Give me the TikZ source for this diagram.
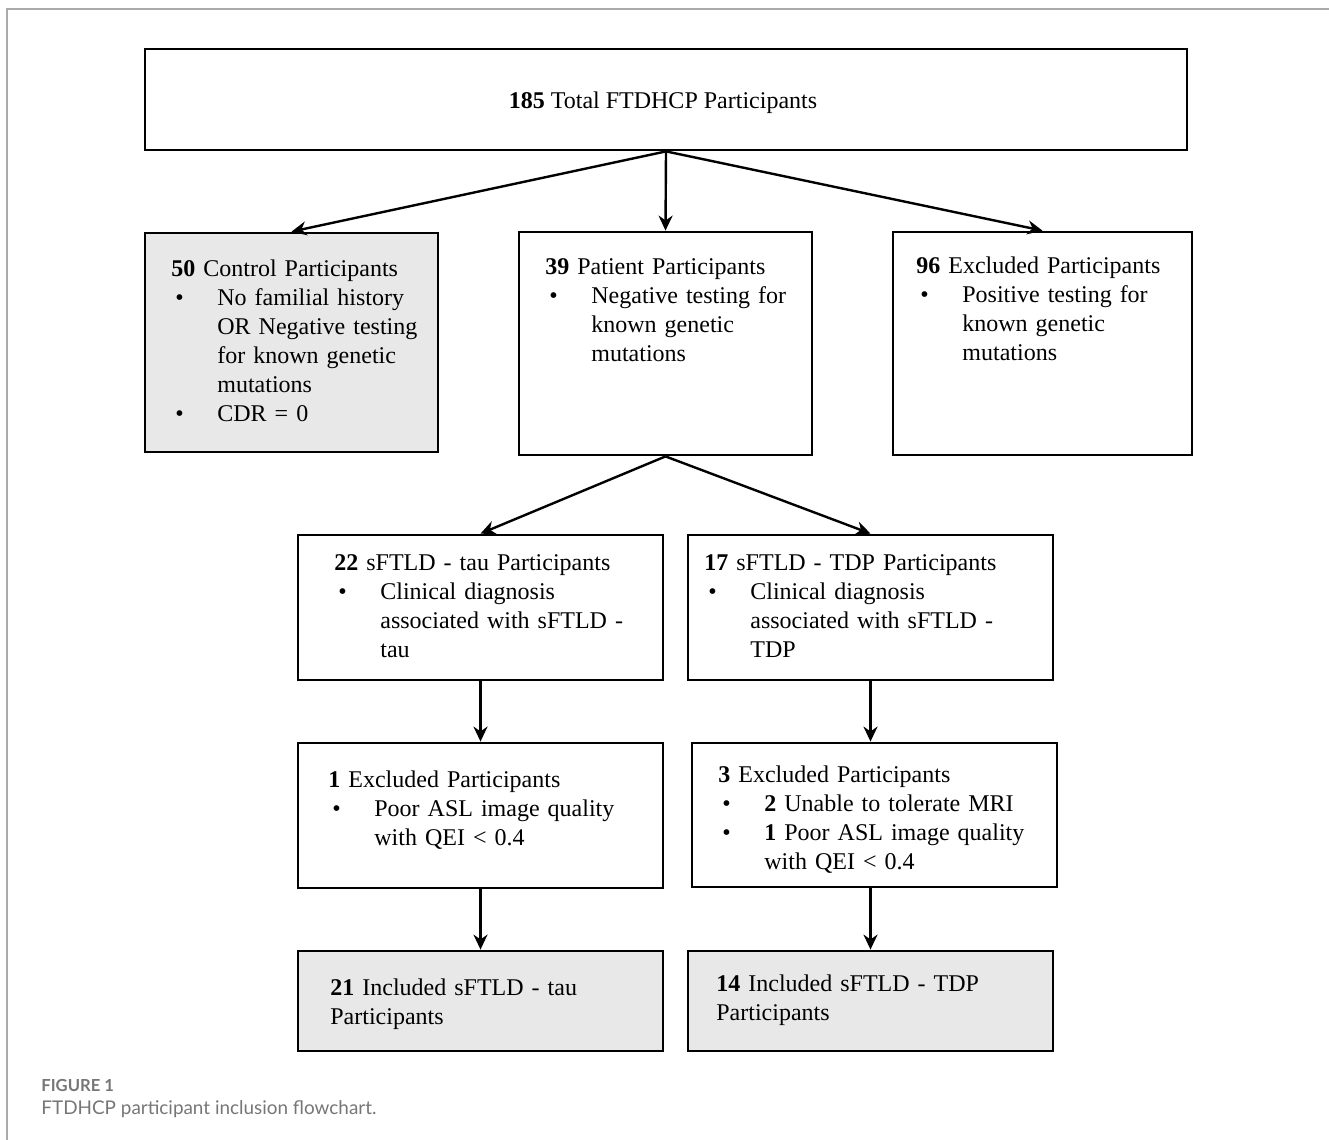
\documentclass[tikz,border=0pt]{standalone}
\usepackage{fontspec}
\setmainfont{Liberation Serif}
\newfontfamily\capfont{Lato}
\usetikzlibrary{arrows.meta}
\newcommand{\bul}{\makebox[23pt][l]{\hspace{2pt}\textbullet}}
\newcommand{\ind}{\hspace*{23pt}}
\definecolor{framegray}{RGB}{170,170,170}
\definecolor{capgray}{RGB}{118,118,118}

\begin{document}
\begin{tikzpicture}[x=0.5pt,y=-0.5pt,
  box/.style={draw,line width=1.4pt,inner sep=0pt},
  greybox/.style={box,fill=gray!18},
  txt/.style={anchor=base west,inner sep=0pt,text width=180pt,align=left,font=\fontsize{12}{14.5}\selectfont},
  arr/.style={line width=1.2pt,-{Stealth[length=7.5pt,width=7pt]}}]
\useasboundingbox (0,0) rectangle (1329,1140);
% page frame
\draw[framegray,line width=0.8pt] (7,1140) -- (7,9) -- (1329,9);

% boxes
\node[box,minimum width=521pt,minimum height=50.5pt] (total) at (666,99.5) {};
\node[greybox,minimum width=146.5pt,minimum height=109.5pt] (ctrl) at (291.5,342.5) {};
\node[box,minimum width=146.5pt,minimum height=111.5pt] (pat) at (665.5,343.5) {};
\node[box,minimum width=149.5pt,minimum height=111.5pt] (excl) at (1042.5,343.5) {};
\node[box,minimum width=182.5pt,minimum height=72.5pt] (tau) at (480.5,607.5) {};
\node[box,minimum width=182.5pt,minimum height=72.5pt] (tdp) at (870.5,607.5) {};
\node[box,minimum width=182.5pt,minimum height=72.5pt] (exa) at (480.5,815.5) {};
\node[box,minimum width=182.5pt,minimum height=72pt] (exb) at (874.5,815) {};
\node[greybox,minimum width=182.5pt,minimum height=50pt] (inca) at (480.5,1001) {};
\node[greybox,minimum width=182.5pt,minimum height=50pt] (incb) at (870.5,1001) {};

% texts
\node[anchor=base,inner sep=0pt,font=\fontsize{12}{14.5}\selectfont] (totalT) at (663,108) {\textbf{185} Total FTDHCP Participants};
\node[txt] (ctrlT) at (171,276) {\textbf{50} Control Participants\\
\bul No familial history\\ \ind OR Negative testing\\ \ind for known genetic\\ \ind mutations\\
\bul CDR = 0};
\node[txt] (patT) at (545,274) {\textbf{39} Patient Participants\\
\bul Negative testing for\\ \ind known genetic\\ \ind mutations};
\node[txt] (exclT) at (916,273) {\textbf{96} Excluded Participants\\
\bul Positive testing for\\ \ind known genetic\\ \ind mutations};
\node[txt] (tauT) at (334,570) {\textbf{22} sFTLD - tau Participants\\
\bul Clinical diagnosis\\ \ind associated with sFTLD -\\ \ind tau};
\node[txt] (tdpT) at (704,570) {\textbf{17} sFTLD - TDP Participants\\
\bul Clinical diagnosis\\ \ind associated with sFTLD -\\ \ind TDP};
\node[txt] (exaT) at (328,787) {\textbf{1} Excluded Participants\\
\bul Poor ASL image quality\\ \ind with QEI < 0.4};
\node[txt] (exbT) at (718,782) {\textbf{3} Excluded Participants\\
\bul \textbf{2} Unable to tolerate MRI\\
\bul \textbf{1} Poor ASL image quality\\ \ind with QEI < 0.4};
\node[txt] (incaT) at (330,995) {\textbf{21} Included sFTLD - tau\\Participants};
\node[txt] (incbT) at (716,991) {\textbf{14} Included sFTLD - TDP\\Participants};

% arrows
\draw[arr] (total.south) -- (ctrl.north);
\draw[arr] (total.south) -- (pat.north);
\draw[arr] (total.south) -- (excl.north);
\draw[arr] (pat.south) -- (tau.north);
\draw[arr] (pat.south) -- (tdp.north);
\draw[arr] (tau.south) -- (exa.north);
\draw[arr] (tdp.south) -- (tdp.south |- exb.north);
\draw[arr] (exa.south) -- (inca.north);
\draw[arr] (incb.north |- exb.south) -- (incb.north);

% caption
\node[anchor=base west,inner sep=0pt,text=capgray,font=\capfont\bfseries\fontsize{8.3}{10}\selectfont] (figno) at (41,1091) {FIGURE 1};
\node[anchor=base west,inner sep=0pt,text=capgray,font=\capfont\fontsize{9.45}{12}\selectfont] (figcap) at (41,1114) {FTDHCP participant inclusion flowchart.};
\end{tikzpicture}
\end{document}
